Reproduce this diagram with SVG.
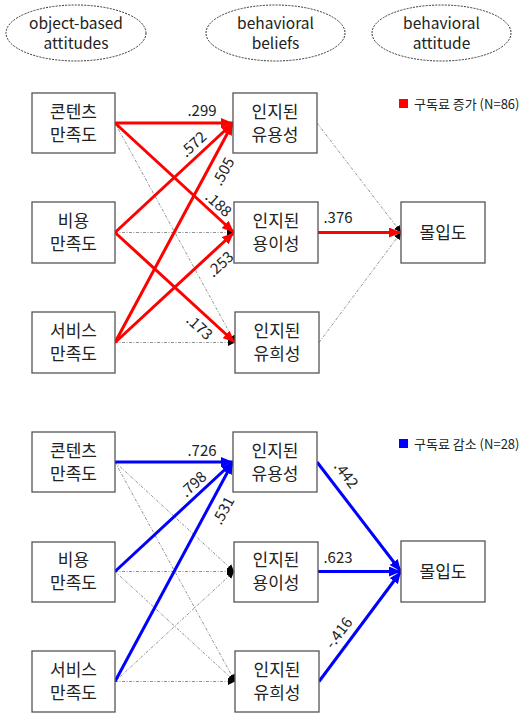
<svg xmlns="http://www.w3.org/2000/svg" width="524" height="714" viewBox="0 0 524 714">
<style>
text{font-family:"Noto Sans CJK KR","Noto Sans",sans-serif;fill:#222}
.hd{font-size:15.5px;text-anchor:middle}
.nt{font-size:17px;text-anchor:middle}
.lb{font-size:15px;text-anchor:middle}
.lg{font-size:13px}
.ell{fill:none;stroke:#333;stroke-width:1;stroke-dasharray:2 1.2}
.box{fill:#fff;stroke:#555;stroke-width:1.3}
.red{stroke:#f00;stroke-width:3;fill:none;marker-end:url(#ar)}
.blue{stroke:#00f;stroke-width:3;fill:none;marker-end:url(#ab)}
.dash{stroke:#777;stroke-width:0.8;fill:none;stroke-dasharray:3 1.5 1 1.5;marker-end:url(#ak)}
</style>
<defs>
<marker id="ar" markerUnits="userSpaceOnUse" markerWidth="12" markerHeight="10" refX="12" refY="5" orient="auto"><path d="M0,0 L12,5 L0,10 z" fill="#f00"/></marker>
<marker id="ab" markerUnits="userSpaceOnUse" markerWidth="12" markerHeight="10" refX="12" refY="5" orient="auto"><path d="M0,0 L12,5 L0,10 z" fill="#00f"/></marker>
<marker id="ak" markerUnits="userSpaceOnUse" markerWidth="7" markerHeight="7" refX="7" refY="3.5" orient="auto"><path d="M0,0 L7,3.5 L0,7 z" fill="#000"/></marker>
</defs>

<g id="headers">
<g id="h1"><ellipse class="ell" cx="76" cy="33" rx="70" ry="28"/><text class="hd" x="76" y="28.5">object-based</text><text class="hd" x="76" y="49">attitudes</text></g>
<g id="h2"><ellipse class="ell" cx="275.5" cy="33" rx="69.5" ry="28"/><text class="hd" x="275.5" y="28.5">behavioral</text><text class="hd" x="275.5" y="49">beliefs</text></g>
<g id="h3"><ellipse class="ell" cx="441.5" cy="33" rx="69.5" ry="28"/><text class="hd" x="441.5" y="28.5">behavioral</text><text class="hd" x="441.5" y="49">attitude</text></g>
</g>

<g id="connectors">
<!-- top (increase) -->
<line class="dash" x1="115" y1="123" x2="235" y2="342.5"/>
<line class="dash" x1="115" y1="232.5" x2="234" y2="232.5"/>
<line class="dash" x1="115" y1="342.5" x2="235" y2="342.5"/>
<line class="dash" x1="317" y1="123" x2="401" y2="232.5"/>
<line class="dash" x1="319" y1="342.5" x2="401" y2="232.5"/>
<line class="red" x1="115" y1="123" x2="233" y2="123"/>
<line class="red" x1="115" y1="123" x2="234" y2="232.5"/>
<line class="red" x1="115" y1="232.5" x2="233" y2="123"/>
<line class="red" x1="115" y1="232.5" x2="235" y2="342.5"/>
<line class="red" x1="115" y1="342.5" x2="233" y2="123"/>
<line class="red" x1="115" y1="342.5" x2="234" y2="232.5"/>
<line class="red" x1="318" y1="232.5" x2="401" y2="232.5"/>
<text class="lb" x="202" y="116">.299</text>
<text class="lb" transform="translate(197,148) rotate(-42.7)">.572</text>
<text class="lb" transform="translate(228,174) rotate(-61.7)">.505</text>
<text class="lb" transform="translate(215,208) rotate(42.5)">.188</text>
<text class="lb" transform="translate(224,268) rotate(-42.7)">.253</text>
<text class="lb" transform="translate(196,331) rotate(42.5)">.173</text>
<text class="lb" x="338" y="223">.376</text>

<!-- bottom (decrease) -->
<line class="dash" x1="115" y1="462" x2="234" y2="571.5"/>
<line class="dash" x1="115" y1="462" x2="235" y2="681.5"/>
<line class="dash" x1="115" y1="571.5" x2="234" y2="571.5"/>
<line class="dash" x1="115" y1="571.5" x2="235" y2="681.5"/>
<line class="dash" x1="115" y1="681.5" x2="234" y2="571.5"/>
<line class="dash" x1="115" y1="681.5" x2="235" y2="681.5"/>
<line class="blue" x1="115" y1="462" x2="233" y2="462"/>
<line class="blue" x1="115" y1="571.5" x2="233" y2="462"/>
<line class="blue" x1="115" y1="681.5" x2="233" y2="462"/>
<line class="blue" x1="317" y1="462" x2="401" y2="571.5"/>
<line class="blue" x1="318" y1="571.5" x2="401" y2="571.5"/>
<line class="blue" x1="319" y1="681.5" x2="401" y2="571.5"/>
<text class="lb" x="202" y="456">.726</text>
<text class="lb" transform="translate(197,488) rotate(-42.7)">.798</text>
<text class="lb" transform="translate(228,513) rotate(-61.7)">.531</text>
<text class="lb" transform="translate(342,478) rotate(52.6)">.442</text>
<text class="lb" x="338" y="563">.623</text>
<text class="lb" transform="translate(343,636) rotate(-53)">-.416</text>
</g>

<g id="legend-top"><rect x="399" y="99" width="9" height="9" fill="#f00"/><text class="lg" x="414" y="109">구독료 증가 (N=86)</text></g>
<g id="legend-bottom"><rect x="399" y="439" width="9" height="9" fill="#00f"/><text class="lg" x="414" y="449">구독료 감소 (N=28)</text></g>

<g id="t-content"><rect class="box" x="32" y="93" width="83" height="60"/><text class="nt" x="73.5" y="118">콘텐츠</text><text class="nt" x="73.5" y="141">만족도</text></g>
<g id="t-cost"><rect class="box" x="32" y="202" width="83" height="61"/><text class="nt" x="73.5" y="227">비용</text><text class="nt" x="73.5" y="250">만족도</text></g>
<g id="t-service"><rect class="box" x="32" y="312" width="83" height="61"/><text class="nt" x="73.5" y="337">서비스</text><text class="nt" x="73.5" y="360">만족도</text></g>
<g id="t-useful"><rect class="box" x="233" y="93" width="84" height="60"/><text class="nt" x="275" y="118">인지된</text><text class="nt" x="275" y="141">유용성</text></g>
<g id="t-ease"><rect class="box" x="234" y="202" width="84" height="61"/><text class="nt" x="276" y="227">인지된</text><text class="nt" x="276" y="250">용이성</text></g>
<g id="t-enjoy"><rect class="box" x="235" y="312" width="84" height="61"/><text class="nt" x="277" y="337">인지된</text><text class="nt" x="277" y="360">유희성</text></g>
<g id="t-flow"><rect class="box" x="401" y="202" width="84" height="61"/><text class="nt" x="443" y="239">몰입도</text></g>

<g id="b-content"><rect class="box" x="32" y="432" width="83" height="60"/><text class="nt" x="73.5" y="457">콘텐츠</text><text class="nt" x="73.5" y="480">만족도</text></g>
<g id="b-cost"><rect class="box" x="32" y="542" width="83" height="60"/><text class="nt" x="73.5" y="566">비용</text><text class="nt" x="73.5" y="589">만족도</text></g>
<g id="b-service"><rect class="box" x="32" y="651" width="83" height="61"/><text class="nt" x="73.5" y="676">서비스</text><text class="nt" x="73.5" y="699">만족도</text></g>
<g id="b-useful"><rect class="box" x="233" y="432" width="84" height="60"/><text class="nt" x="275" y="457">인지된</text><text class="nt" x="275" y="480">유용성</text></g>
<g id="b-ease"><rect class="box" x="234" y="542" width="84" height="60"/><text class="nt" x="276" y="566">인지된</text><text class="nt" x="276" y="589">용이성</text></g>
<g id="b-enjoy"><rect class="box" x="235" y="651" width="84" height="61"/><text class="nt" x="277" y="676">인지된</text><text class="nt" x="277" y="699">유희성</text></g>
<g id="b-flow"><rect class="box" x="401" y="541" width="84" height="61"/><text class="nt" x="443" y="578">몰입도</text></g>
</svg>
